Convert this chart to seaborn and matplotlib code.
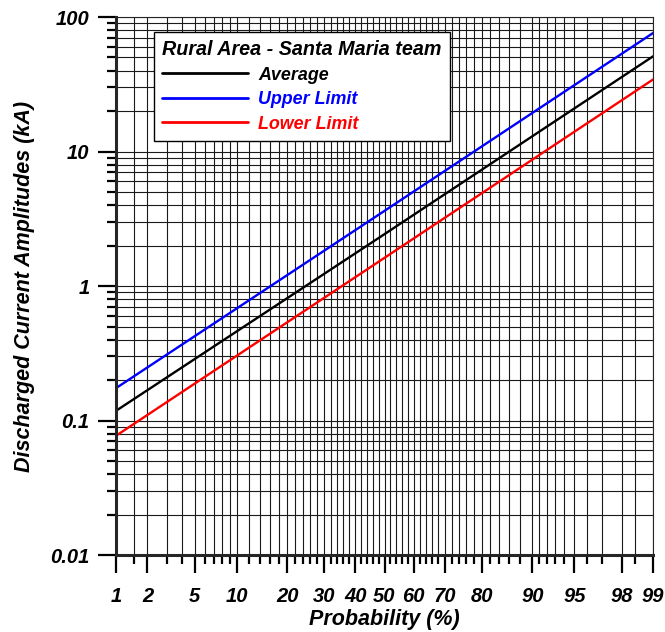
from statistics import NormalDist

import numpy as np
import pandas as pd
import seaborn as sns
import matplotlib.pyplot as plt
from matplotlib.ticker import LogLocator, NullFormatter

# values (probability in %, amplitude in kA)
probability = [1, 50, 99]
average = [0.118, 2.43, 51.0]
upper_limit = [0.174, 3.62, 76.0]
lower_limit = [0.077, 1.62, 34.3]

series_names = ['Average', 'Upper Limit', 'Lower Limit']
series_colors = ['black', 'blue', 'red']

major_probs = [1, 2, 5, 10, 20, 30, 40, 50, 60, 70, 80, 90, 95, 98, 99]
minor_probs = ([1.5, 3, 4, 6, 7, 8, 9, 12, 14, 16, 18]
               + [p for p in range(22, 90, 2) if p % 10 != 0]
               + [91, 92, 93, 94, 96, 97, 98.5])
y_major = [0.01, 0.1, 1, 10, 100]
y_labels = ['0.01', '0.1', '1', '10', '100']

nd = NormalDist()


def to_z(p):
    return nd.inv_cdf(p / 100.0)


rows = []
for name, vals in zip(series_names, [average, upper_limit, lower_limit]):
    for p, v in zip(probability, vals):
        rows.append({'z': to_z(p), 'kA': v, 'series': name})
df = pd.DataFrame(rows)

sns.set_style('ticks')
plt.rcParams['font.family'] = ['Liberation Sans', 'DejaVu Sans']
plt.rcParams['font.weight'] = 'bold'
plt.rcParams['font.style'] = 'italic'
plt.rcParams['text.color'] = 'black'
plt.rcParams['axes.labelcolor'] = 'black'
plt.rcParams['axes.labelweight'] = 'bold'
plt.rcParams['xtick.color'] = 'black'
plt.rcParams['ytick.color'] = 'black'

fig = plt.figure(figsize=(6.65, 6.32), dpi=100)
ax = fig.add_axes([0.1744, 0.1218, 0.8076, 0.8513])

sns.lineplot(data=df, x='z', y='kA', hue='series', hue_order=series_names,
             palette=dict(zip(series_names, series_colors)), linewidth=1.7,
             ax=ax, legend=True)

ax.set_yscale('log')
ax.set_ylim(0.01, 100)
ax.set_xlim(to_z(1), to_z(99))

# x axis: normal probability scale
ax.set_xticks([to_z(p) for p in major_probs])
ax.set_xticklabels([str(p) for p in major_probs])
ax.set_xticks([to_z(p) for p in minor_probs], minor=True)

ax.set_yticks(y_major)
ax.set_yticklabels(y_labels)
ax.yaxis.set_minor_locator(LogLocator(base=10, subs=np.arange(2, 10)))
ax.yaxis.set_minor_formatter(NullFormatter())

ax.grid(True, which='both', color='#1a1a1a', linewidth=0.8)
ax.set_axisbelow(True)

ax.tick_params(which='major', length=13, width=1.6, labelsize=14.5, color='black')
ax.tick_params(which='minor', length=6.5, width=1.6, color='black')
ax.tick_params(axis='x', which='major', pad=10)
ax.tick_params(axis='y', which='major', pad=6)

for side in ['left', 'bottom']:
    ax.spines[side].set_linewidth(2.2)
for side in ['top', 'right']:
    ax.spines[side].set_linewidth(0.8)

ax.set_xlabel('Probability (%)', fontsize=15.5, fontweight='bold', labelpad=2)
ax.set_ylabel('Discharged Current Amplitudes (kA)', fontsize=15.5,
              fontweight='bold', labelpad=11)

leg = ax.legend(title='Rural Area - Santa Maria team', loc='upper left',
                bbox_to_anchor=(0.071, 0.972), frameon=True, fancybox=False,
                framealpha=1, edgecolor='black', fontsize=12.9,
                title_fontsize=14.2, handlelength=4.8, handletextpad=0.55,
                borderaxespad=0, labelspacing=0.42, borderpad=0.45)
leg.get_frame().set_linewidth(1.0)
leg._legend_box.align = 'left'
leg.get_title().set_color('black')
leg.get_title().set_fontweight('bold')
for text, col in zip(leg.get_texts(), series_colors):
    text.set_color(col)
for line in leg.get_lines():
    line.set_linewidth(2)

fig.savefig('out.png', dpi=100)
